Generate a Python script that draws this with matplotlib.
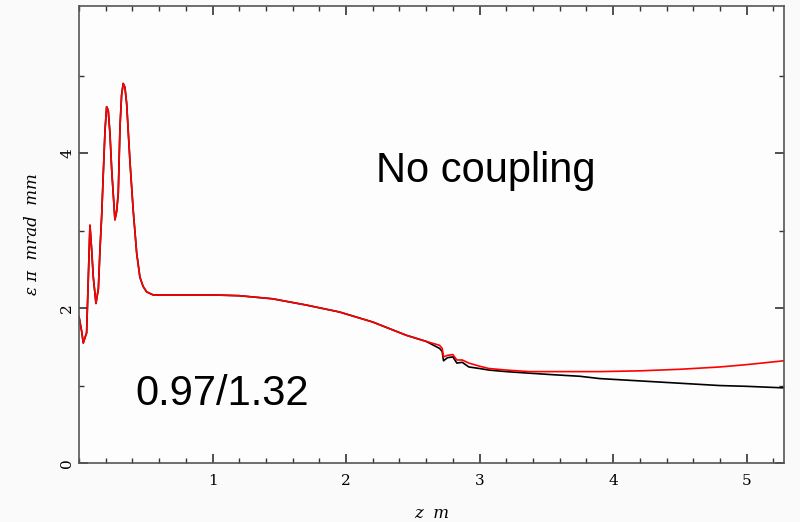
import matplotlib
matplotlib.use("Agg")
import matplotlib.pyplot as plt
from matplotlib.ticker import MultipleLocator

# Shared early part (both curves overlap)
z_common = [0, 0.02, 0.032, 0.045, 0.057, 0.07, 0.082, 0.095, 0.107, 0.127, 0.145, 0.157,
            0.17, 0.182, 0.195, 0.207, 0.219, 0.232, 0.245, 0.269, 0.282, 0.294, 0.307,
            0.319, 0.331, 0.344, 0.357, 0.381, 0.406, 0.432, 0.456, 0.48, 0.506, 0.53,
            0.556, 0.6, 0.8, 1.0, 1.2, 1.45, 1.70, 1.95, 2.20, 2.45, 2.60]
eps_common = [1.89, 1.70, 1.55, 1.62, 1.68, 2.4, 3.07, 2.75, 2.4, 2.06, 2.25, 2.75,
              3.2, 3.74, 4.3, 4.6, 4.55, 4.25, 3.78, 3.14, 3.25, 3.48, 4.34,
              4.75, 4.9, 4.85, 4.64, 3.91, 3.26, 2.71, 2.40, 2.28, 2.21, 2.19,
              2.17, 2.17, 2.17, 2.17, 2.16, 2.12, 2.04, 1.95, 1.82, 1.65, 1.57]

z_tail = [2.70, 2.72, 2.73, 2.76, 2.80, 2.83, 2.87, 2.92, 3.0, 3.07, 3.2, 3.37,
          3.55, 3.75, 3.9, 4.2, 4.5, 4.8, 5.0, 5.28]
eps_black_tail = [1.48, 1.44, 1.32, 1.36, 1.37, 1.29, 1.30, 1.24, 1.22, 1.20, 1.18, 1.16,
                  1.14, 1.12, 1.09, 1.06, 1.03, 1.00, 0.99, 0.97]
eps_red_tail = [1.52, 1.48, 1.37, 1.39, 1.40, 1.33, 1.33, 1.29, 1.25, 1.22, 1.20, 1.18,
                1.18, 1.18, 1.18, 1.19, 1.21, 1.24, 1.27, 1.32]

x_ticks = [1, 2, 3, 4, 5]
y_ticks = [0, 2, 4]

fig = plt.figure(figsize=(8, 5.22), dpi=100, facecolor="#fafafa")
ax = fig.add_axes([0.09875, 0.113, 0.88125, 0.8755])
ax.set_facecolor("#fdfdfd")

ax.plot(z_common + z_tail, eps_common + eps_black_tail, color="black", lw=1.2)
ax.plot(z_common + z_tail, eps_common + eps_red_tail, color="red", lw=1.2)

ax.set_xlim(0, 5.28)
ax.set_ylim(0, 5.9)
ax.set_xticks(x_ticks)
ax.set_yticks(y_ticks)
ax.xaxis.set_minor_locator(MultipleLocator(0.2))
ax.yaxis.set_minor_locator(MultipleLocator(1))
ax.tick_params(which="both", direction="in", top=True, right=True, color="#333333")
ax.tick_params(which="major", length=6.5, width=1.2, labelsize=11)
ax.tick_params(axis="x", which="major", pad=8)
ax.tick_params(which="minor", length=3.5, width=1.0)
for lab in ax.get_xticklabels() + ax.get_yticklabels():
    lab.set_family("DejaVu Serif")
for lab in ax.get_yticklabels():
    lab.set_rotation(90)
    lab.set_va("center")
for s in ax.spines.values():
    s.set_color("#555555")
    s.set_linewidth(1.2)

ax.set_xlabel("z  m", fontsize=12, family="DejaVu Serif", style="italic", labelpad=12)
ax.set_ylabel("ε π  mrad  mm", fontsize=12, family="DejaVu Serif", style="italic", labelpad=14)

ax.text(3.05, 3.63, "No coupling", fontsize=30, family="Liberation Sans", ha="center", va="baseline")
ax.text(0.42, 0.75, "0.97/1.32", fontsize=30, family="Liberation Sans", ha="left", va="baseline")

fig.savefig("out.png", dpi=100, facecolor=fig.get_facecolor())
